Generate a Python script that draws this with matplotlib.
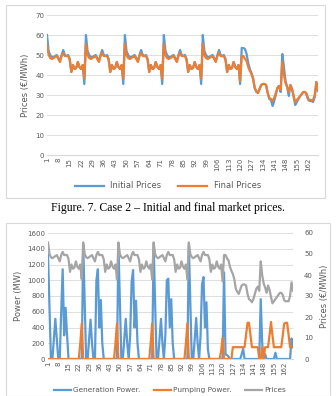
import numpy as np
import matplotlib
matplotlib.use("Agg")
import matplotlib.pyplot as plt
from matplotlib.patches import Rectangle

hours = np.arange(1, 169)

initial_prices = [
    60, 52, 50, 49, 49, 49.5, 50, 48.5, 47, 50, 52.5, 50, 49.5, 50, 48, 41.5, 45, 43, 43.5, 46.5, 44, 43, 45, 35.5,
    60, 52, 50, 49, 49, 49.5, 50, 48.5, 47, 50, 52.5, 50, 49.5, 50, 48, 41.5, 45, 43, 43.5, 46.5, 44, 43, 45, 35.5,
    60, 52, 50, 49, 49, 49.5, 50, 48.5, 47, 50, 52.5, 50, 49.5, 50, 48, 41.5, 45, 43, 43.5, 46.5, 44, 43, 45, 35.5,
    60, 52, 50, 49, 49, 49.5, 50, 48.5, 47, 50, 52.5, 50, 49.5, 50, 48, 41.5, 45, 43, 43.5, 46.5, 44, 43, 45, 35.5,
    60, 52, 50, 49, 49, 49.5, 50, 48.5, 47, 50, 52.5, 50, 49.5, 50, 48, 41.5, 45, 43, 43.5, 46.5, 44, 43, 45, 35.5,
    53.5, 53.5, 53, 50.5, 46, 43, 41, 38.5, 33.5, 31.5, 31, 33, 35, 35.5, 35.5, 35, 31, 28, 27.5, 24.5, 27, 30, 33.5, 34.5,
    31.5, 50.5, 44, 37, 34, 29.5, 35, 33, 29, 25, 26.5, 28, 29.5, 30.5, 31.5, 31.5, 30, 27.5, 27, 27, 26.5, 29, 36.5, 32,
]

final_prices = [
    55.5, 50, 48.5, 48, 48.5, 49, 49.5, 48, 46.5, 49.5, 51, 49.5, 49.5, 49.5, 47.5, 41.5, 45, 43, 43.5, 46.5, 44, 43, 45, 38,
    55.5, 50, 48.5, 48, 48.5, 49, 49.5, 48, 46.5, 49.5, 51, 49.5, 49.5, 49.5, 47.5, 41.5, 45, 43, 43.5, 46.5, 44, 43, 45, 38,
    55.5, 50, 48.5, 48, 48.5, 49, 49.5, 48, 46.5, 49.5, 51, 49.5, 49.5, 49.5, 47.5, 41.5, 45, 43, 43.5, 46.5, 44, 43, 45, 38,
    55.5, 50, 48.5, 48, 48.5, 49, 49.5, 48, 46.5, 49.5, 51, 49.5, 49.5, 49.5, 47.5, 41.5, 45, 43, 43.5, 46.5, 44, 43, 45, 38,
    55.5, 50, 48.5, 48, 48.5, 49, 49.5, 48, 46.5, 49.5, 51, 49.5, 49.5, 49.5, 47.5, 41.5, 45, 43, 43.5, 46.5, 44, 43, 45, 37,
    49.5, 49.5, 48, 47, 44, 42, 40.5, 38, 33.5, 32, 31, 33, 35, 35.5, 35.5, 35, 31, 28.5, 28, 27, 28.5, 31, 33.5, 34.5,
    32.5, 46.5, 40, 36, 34, 31.5, 35, 33, 29.5, 26.5, 27.5, 28.5, 29.5, 30.5, 31.5, 31.5, 30.5, 28, 27.5, 27.5, 27.5, 30, 36.5, 32.5,
]

generation_power = [
    1330, 650, 0, 0, 250, 510, 250, 0, 0, 600, 1140, 300, 650, 300, 0, 0, 0, 0, 0, 0, 0, 0, 0, 0,
    1450, 700, 0, 0, 250, 500, 200, 0, 0, 1000, 1140, 400, 750, 200, 0, 0, 0, 0, 0, 0, 0, 0, 0, 0,
    1450, 700, 0, 0, 250, 510, 200, 0, 300, 980, 1130, 400, 740, 200, 0, 0, 0, 0, 0, 0, 0, 0, 0, 0,
    1450, 700, 0, 0, 250, 510, 200, 0, 300, 1000, 1020, 400, 760, 200, 0, 0, 0, 0, 0, 0, 0, 0, 0, 0,
    1450, 700, 0, 0, 250, 520, 200, 0, 300, 950, 1040, 400, 720, 120, 0, 0, 0, 0, 0, 0, 0, 0, 0, 0,
    1100, 60, 50, 30, 0, 0, 0, 0, 0, 0, 0, 0, 60, 130, 0, 0, 0, 0, 0, 0, 0, 0, 0, 0,
    0, 760, 200, 0, 60, 0, 0, 0, 0, 0, 0, 80, 0, 0, 0, 0, 0, 0, 0, 0, 0, 0, 260, 150,
]

pumping_power = [
    0, 0, 0, 0, 0, 0, 0, 0, 0, 0, 0, 0, 0, 0, 0, 0, 0, 0, 0, 0, 0, 0, 200, 450,
    0, 0, 0, 0, 0, 0, 0, 0, 0, 0, 0, 0, 0, 0, 0, 0, 0, 0, 0, 0, 0, 0, 200, 450,
    0, 0, 0, 0, 0, 0, 0, 0, 0, 0, 0, 0, 0, 0, 0, 0, 0, 0, 0, 0, 0, 0, 200, 450,
    0, 0, 0, 0, 0, 0, 0, 0, 0, 0, 0, 0, 0, 0, 0, 0, 0, 0, 0, 0, 0, 0, 200, 450,
    0, 0, 0, 0, 0, 0, 0, 0, 0, 0, 0, 0, 0, 0, 0, 0, 0, 0, 0, 0, 0, 0, 100, 270,
    0, 0, 0, 0, 0, 0, 150, 150, 150, 150, 150, 150, 150, 150, 150, 300, 460, 460, 300, 150, 150, 150, 150, 150,
    0, 0, 150, 0, 150, 150, 150, 300, 470, 300, 150, 150, 150, 150, 150, 150, 300, 450, 460, 460, 300, 150, 150, 150,
]

tick_hours = list(range(1, 169, 7))

blue = '#5B9BD5'
orange = '#ED7D31'
grey = '#A5A5A5'
grid_c = '#D9D9D9'
text_c = '#595959'

W, H = 336, 396
fig = plt.figure(figsize=(W / 100, H / 100), dpi=100)
plt.rcParams['font.family'] = ['DejaVu Sans']
LW = 1.6


def ax_rect(left, top, right, bottom):
    return [left / W, 1 - bottom / H, (right - left) / W, (bottom - top) / H]


def style_axes(ax):
    for s in ['top', 'right', 'left']:
        ax.spines[s].set_visible(False)
    ax.spines['bottom'].set_color(grid_c)
    ax.grid(axis='y', color=grid_c, linewidth=0.6)
    ax.set_axisbelow(True)
    ax.tick_params(axis='both', length=0, labelsize=5, colors=text_c, pad=2)
    ax.set_xticks(tick_hours)
    ax.set_xticklabels([str(t) for t in tick_hours], rotation=90)
    ax.set_xlim(1, 168)


# frames around the two charts
fig.patches.append(Rectangle((6 / W, 1 - 198 / H), 319 / W, 193 / H,
                             transform=fig.transFigure, fill=False,
                             edgecolor=grid_c, linewidth=0.8))
fig.patches.append(Rectangle((6 / W, 0), 324 / W, 1 - 223 / H,
                             transform=fig.transFigure, fill=False,
                             edgecolor=grid_c, linewidth=0.8))

# top chart
ax1 = fig.add_axes(ax_rect(47, 15, 318, 155))
ax1.plot(hours, initial_prices, color=blue, lw=LW, label='Initial Prices')
ax1.plot(hours, final_prices, color=orange, lw=LW, label='Final Prices')
ax1.set_ylim(0, 70)
ax1.set_yticks(range(0, 71, 10))
style_axes(ax1)
ax1.set_ylabel('Prices (€/MWh)', fontsize=6, color=text_c, labelpad=4)
ax1.legend(loc='center', bbox_to_anchor=(168 / W, 1 - 186 / H),
           bbox_transform=fig.transFigure, ncol=2, frameon=False,
           fontsize=6, labelcolor=text_c, handlelength=3.5, columnspacing=2)

fig.text(168 / W, 1 - 208 / H, 'Figure. 7. Case 2 \u2013 Initial and final market prices.',
         ha='center', va='center', fontsize=8.5, family='Liberation Serif')

# bottom chart
ax2 = fig.add_axes(ax_rect(48, 233, 293, 359))
ax2.plot(hours, generation_power, color=blue, lw=LW, label='Generation Power.')
ax2.plot(hours, pumping_power, color=orange, lw=LW, label='Pumping Power.')
ax2.set_ylim(0, 1600)
ax2.set_yticks(range(0, 1601, 200))
style_axes(ax2)
ax2.set_ylabel('Power (MW)', fontsize=6, color=text_c, labelpad=3)

ax3 = ax2.twinx()
ax3.plot(hours, final_prices, color=grey, lw=LW, label='Prices')
ax3.set_ylim(0, 60)
ax3.set_yticks(range(0, 61, 10))
for s in ['top', 'right', 'left', 'bottom']:
    ax3.spines[s].set_visible(False)
ax3.tick_params(axis='y', length=0, labelsize=5, colors=text_c, pad=8)
ax3.set_ylabel('Prices (€/MWh)', fontsize=6, color=text_c, labelpad=5)

h1, l1 = ax2.get_legend_handles_labels()
h2, l2 = ax3.get_legend_handles_labels()
ax2.legend(h1 + h2, l1 + l2, loc='center', bbox_to_anchor=(170 / W, 1 - 390 / H),
           bbox_transform=fig.transFigure, ncol=3, frameon=False,
           fontsize=5.3, labelcolor=text_c, handlelength=2.3,
           handletextpad=0.3, columnspacing=1.8)

fig.savefig('out.png', dpi=100)
